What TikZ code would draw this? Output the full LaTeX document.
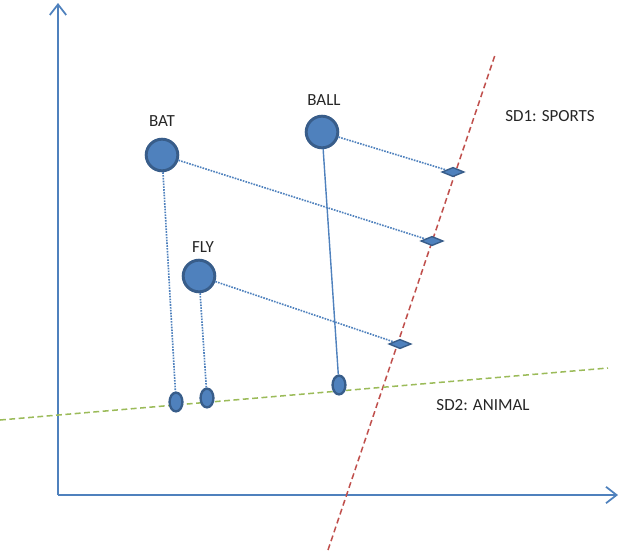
\documentclass[tikz,border=0pt]{standalone}
\usepackage{fontspec}
\setmainfont{Carlito}
\usetikzlibrary{arrows.meta,shapes.geometric}
\definecolor{pblue}{RGB}{79,129,189}
\definecolor{dblue}{RGB}{56,93,138}
\definecolor{pgreen}{RGB}{155,187,89}
\definecolor{pred}{RGB}{192,80,77}
\tikzset{
 word/.style={circle,fill=pblue,draw=dblue,line width=2.5pt,minimum size=27pt,inner sep=0pt},
 dia/.style={diamond,aspect=2.6,fill=pblue,draw=dblue,line width=1.2pt,minimum width=19pt,minimum height=8pt,inner sep=0pt},
 proj/.style={ellipse,fill=pblue,draw=dblue,line width=2pt,minimum width=11pt,minimum height=16pt,inner sep=0pt},
 lab/.style={font=\fontsize{14.5}{16}\selectfont,text=black!85},
 dots/.style={pblue,densely dotted,line width=1.4pt},
 sdline/.style={dash pattern=on 5pt off 3pt,line width=1.3pt},
 axis/.style={pblue,line width=1.5pt,-{Straight Barb[length=9pt,width=14pt]}}
}
\begin{document}
\begin{tikzpicture}[x=0.03cm,y=-0.03cm]
\useasboundingbox (0,0) rectangle (622,554);
\coordinate (o) at (58,495);
\coordinate (yt) at (58,3);
\coordinate (xt) at (618,495);
\draw[axis] (o) -- (yt);
\draw[axis] (o) -- (xt);
\coordinate (r1) at (328,550); \coordinate (r2) at (495,55);
\coordinate (g1) at (0,420); \coordinate (g2) at (608,368);
\draw[pred,sdline] (r1) -- (r2);
\draw[pgreen,sdline] (g1) -- (g2);
\node[word] (bat) at (162,155) {};
\node[word] (ball) at (322,132) {};
\node[word] (fly) at (199,276) {};
\node[lab] (tbat) at (162,121) {BAT};
\node[lab] (tball) at (324,100) {BALL};
\node[lab] (tfly) at (203,247) {FLY};
\node[lab] (sd1) at (550,116) {SD1: SPORTS};
\node[lab] (sd2) at (483,405) {SD2: ANIMAL};
\node[dia] (d1) at (453,172) {};
\node[dia] (d2) at (432,241) {};
\node[dia] (d3) at (400,344) {};
\node[proj] (p1) at (176,402) {};
\node[proj] (p2) at (207,398) {};
\node[proj] (p3) at (339,385) {};
\draw[dots] (ball) -- (d1);
\draw[dots] (bat) -- (d2);
\draw[dots] (fly) -- (d3);
\draw[dots] (bat) -- (p1);
\draw[dots] (fly) -- (p2);
\draw[pblue,line width=1.2pt] (ball) -- (p3);
\end{tikzpicture}
\end{document}
